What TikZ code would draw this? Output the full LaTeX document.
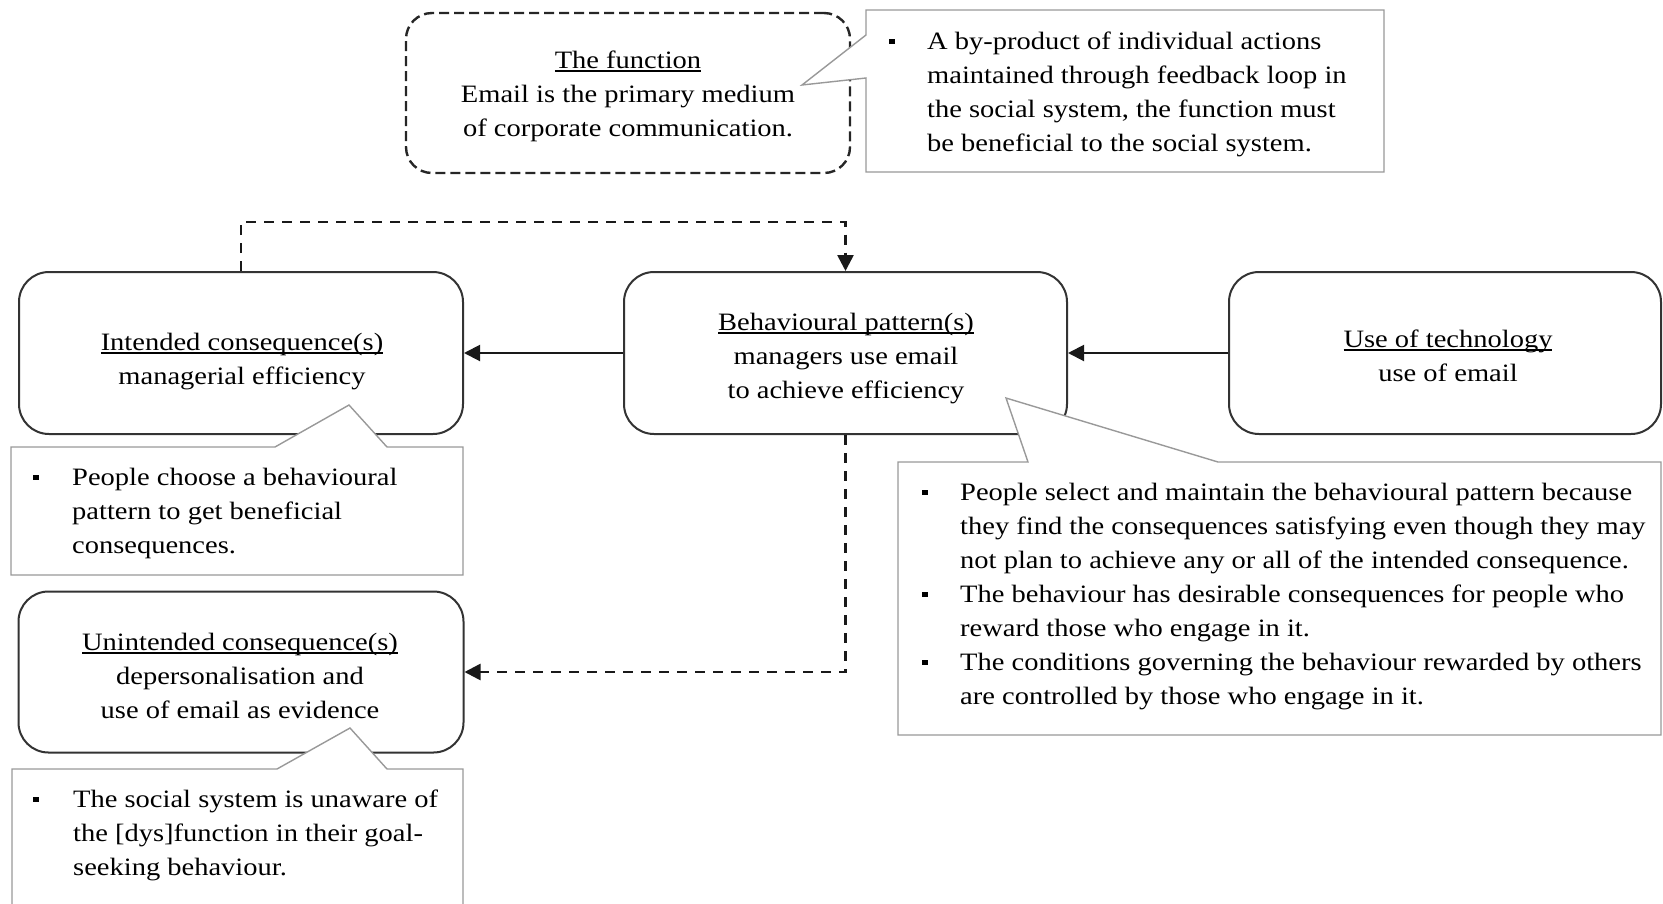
\documentclass[tikz,border=0pt]{standalone}
\usepackage{fontspec}
\setmainfont{Liberation Serif}[FakeStretch=1.14]
\usetikzlibrary{arrows.meta}
\newcommand\ulT[1]{\setbox0\hbox{#1}\rlap{\rule[-3.5pt]{\wd0}{1.1pt}}\box0}
\newcommand\bulsq{\rule[5pt]{5.5pt}{5.5pt}}
\newcommand\bcol[1]{\makebox[#1][l]{\bulsq}}
\begin{document}
\begin{tikzpicture}[x=1pt,y=-1pt,
  mainbox/.style={draw=black!80, line width=2pt, rounded corners=30pt, inner sep=0pt},
  funbox/.style={draw=black!85, line width=2.4pt, dash pattern=on 10pt off 5pt, rounded corners=26pt, inner sep=0pt},
  callout/.style={draw=black!40, line width=1.4pt, fill=white},
  txt/.style={inner sep=0pt, anchor=base, font=\fontsize{25}{34}\selectfont},
  ntxt/.style={txt, anchor=base west},
  conn/.style={draw=black!90, line width=2pt, -{Triangle[length=16pt,width=16pt]}},
  dconn/.style={conn, line width=2.6pt, dash pattern=on 10pt off 8pt}]
\useasboundingbox (0,0) rectangle (1663,903);
\clip (0,0) rectangle (1663,903);
% boxes
\node[funbox, minimum width=444pt, minimum height=160pt] (fun) at (628,93) {};
\node[mainbox, minimum width=444pt, minimum height=162pt] (int) at (241,353) {};
\node[mainbox, minimum width=443pt, minimum height=162pt] (beh) at (845.5,353) {};
\node[mainbox, minimum width=432pt, minimum height=162pt] (use) at (1445,353) {};
\node[mainbox, minimum width=445pt, minimum height=161pt] (unint) at (241,672) {};
% connectors
\draw[conn] (beh.west) -- (int.east);
\draw[conn] (use.west) -- (beh.east);
\draw[dconn] (int.north) -- ++(0,-49) -| (beh.north);
\draw[dconn] (beh.south) |- (unint.east);
% callouts
\draw[callout] (866,10) -- (1384,10) -- (1384,172) -- (866,172) -- (866,78) -- (802,85) -- (866,35) -- cycle;
\draw[callout] (11,447) -- (275,447) -- (349,405) -- (387,447) -- (463,447) -- (463,575) -- (11,575) -- cycle;
\draw[callout] (12,769) -- (277,769) -- (350,728) -- (387,769) -- (463,769) -- (463,915) -- (12,915) -- cycle;
\draw[callout] (898,462) -- (1028,462) -- (1006,398) -- (1218,462) -- (1661,462) -- (1661,735) -- (898,735) -- cycle;
% box texts
\node[txt] (funT) at (628,68) {\begin{tabular}[t]{@{}c@{}}\ulT{The function}\\Email is the primary medium\\of corporate communication.\end{tabular}};
\node[txt] (intT) at (242,350) {\begin{tabular}[t]{@{}c@{}}\ulT{Intended consequence(s)}\\managerial efficiency\end{tabular}};
\node[txt] (behT) at (846,330) {\begin{tabular}[t]{@{}c@{}}\ulT{Behavioural pattern(s)}\\managers use email\\to achieve efficiency\end{tabular}};
\node[txt] (useT) at (1448,347) {\begin{tabular}[t]{@{}c@{}}\ulT{Use of technology}\\use of email\end{tabular}};
\node[txt] (unintT) at (240,650) {\begin{tabular}[t]{@{}c@{}}\ulT{Unintended consequence(s)}\\depersonalisation and\\use of email as evidence\end{tabular}};
% note texts
\node[ntxt] (n1T) at (889,49) {\begin{tabular}[t]{@{}l@{}l@{}}\bcol{38pt} & A by-product of individual actions\\ & maintained through feedback loop in\\ & the social system, the function must\\ & be beneficial to the social system.\end{tabular}};
\node[ntxt] (n2T) at (33,485) {\begin{tabular}[t]{@{}l@{}l@{}}\bcol{39pt} & People choose a behavioural\\ & pattern to get beneficial\\ & consequences.\end{tabular}};
\node[ntxt] (n3T) at (33,807) {\begin{tabular}[t]{@{}l@{}l@{}}\bcol{40pt} & The social system is unaware of\\ & the [dys]function in their goal-\\ & seeking behaviour.\end{tabular}};
\node[ntxt] (n4T) at (922,500) {\begin{tabular}[t]{@{}l@{}l@{}}\bcol{38pt} & People select and maintain the behavioural pattern because\\ & they find the consequences satisfying even though they may\\ & not plan to achieve any or all of the intended consequence.\\ \bcol{38pt} & The behaviour has desirable consequences for people who\\ & reward those who engage in it.\\ \bcol{38pt} & The conditions governing the behaviour rewarded by others\\ & are controlled by those who engage in it.\end{tabular}};
\end{tikzpicture}
\end{document}
